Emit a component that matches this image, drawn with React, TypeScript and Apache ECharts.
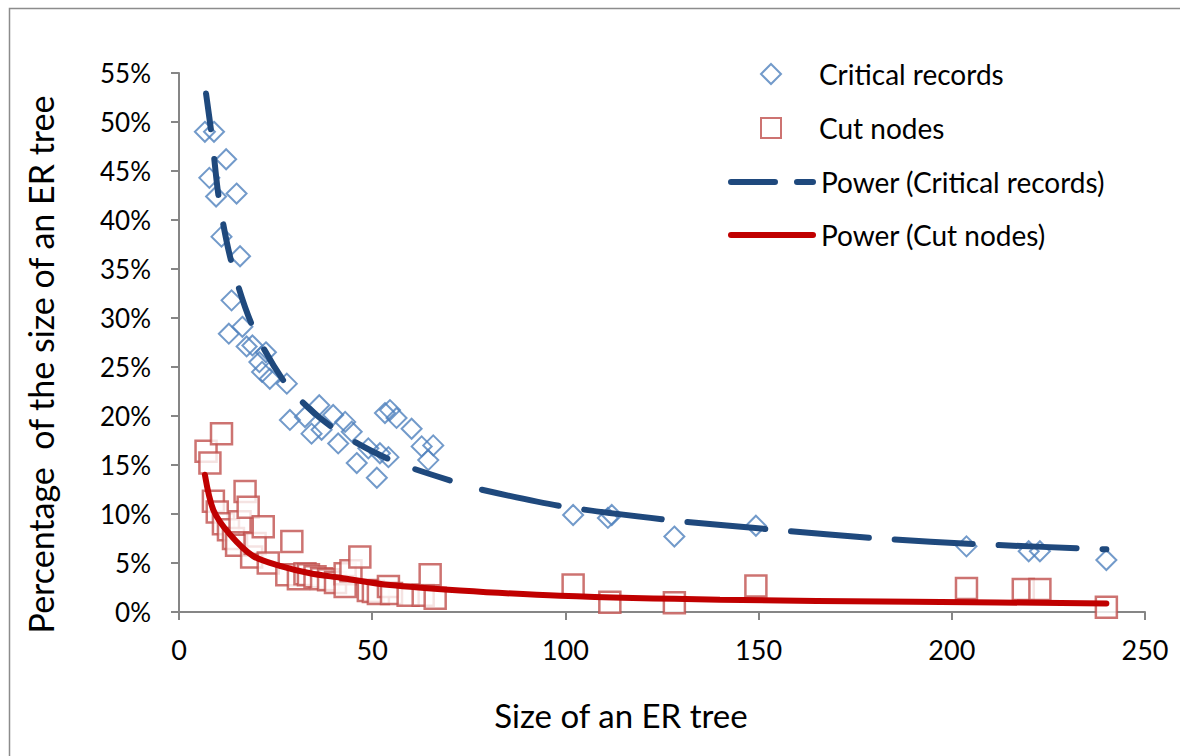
import React, { useEffect, useRef } from "react";
import * as echarts from "echarts";

// Critical records (% of ER tree size) vs size of an ER tree
const criticalRecords: [number, number][] = [
  [6.7, 49.0], [7.85, 44.3], [9.06, 49.0], [9.6, 42.4], [11.0, 38.3], [12.2, 46.2],
  [12.9, 28.4], [13.6, 31.8], [14.9, 42.7], [15.8, 36.3], [16.4, 29.1], [17.5, 27.1],
  [19.0, 27.2], [20.8, 25.5], [21.5, 24.5], [22.5, 26.5], [23.5, 23.8], [27.9, 23.3],
  [28.7, 19.6], [32.6, 19.9], [34.3, 18.2], [36.3, 21.1], [36.9, 18.6], [39.9, 20.1],
  [41.2, 17.2], [43.0, 19.4], [44.7, 18.4], [46.0, 15.2], [49.0, 16.7], [51.2, 13.7],
  [52.0, 16.2], [53.3, 20.3], [54.2, 15.8], [54.6, 20.6], [56.3, 19.8], [60.2, 18.7],
  [62.8, 16.9], [64.5, 15.5], [65.8, 17.0], [102, 9.9], [111, 9.6], [112, 9.9],
  [128.2, 7.7], [149.3, 8.8], [203.8, 6.7], [219.9, 6.2], [222.8, 6.2], [240, 5.3]
];

// Cut nodes (% of ER tree size)
const cutNodes: [number, number][] = [
  [7.0, 16.4], [8.0, 15.2], [8.9, 11.3], [9.9, 10.2], [11.0, 18.2], [11.5, 9.0],
  [12.8, 8.4], [14.1, 7.5], [14.9, 6.8], [15.8, 9.2], [17.1, 12.3], [17.9, 10.7],
  [18.8, 5.6], [19.7, 7.0], [21.8, 8.7], [23.1, 5.0], [27.9, 3.8], [29.2, 7.2],
  [30.9, 3.4], [32.6, 3.9], [33.5, 3.8], [35.2, 3.6], [36.9, 3.4], [38.7, 3.3],
  [40.5, 3.0], [43.0, 3.9], [43.0, 2.6], [44.5, 4.2], [46.8, 5.6], [49.0, 2.2],
  [50.3, 2.1], [51.6, 1.9], [54.2, 2.6], [55.0, 1.9], [59.3, 1.7], [63.2, 1.7],
  [65.0, 3.8], [66.3, 1.4], [102, 2.76], [111.5, 1.0], [128.2, 0.95], [149.3, 2.65],
  [203.8, 2.4], [218.5, 2.3], [222.8, 2.3], [240, 0.48]
];

// Power trendlines, points
const powerCriticalSteep: [number, number][] = [
  [7, 52.9], [8.5, 48.5], [10.4, 42.0], [13.7, 35.5], [19.1, 29.1], [27.4, 23.4],
  [35, 20.3], [42.4, 18.1], [50, 16.4], [58, 15.0], [72, 13.2]
];
const powerCriticalFlat: [number, number][] = [
  [72, 13.2], [77, 12.6], [99, 10.8], [126.5, 9.4], [154, 8.4], [181, 7.5],
  [208, 6.9], [240, 6.4]
];
const powerCut: [number, number][] = [
  [6.7, 14.0], [8.9, 10.4], [13.2, 7.9], [19.2, 5.7], [26.1, 4.7], [33.9, 3.95],
  [41.7, 3.5], [54.6, 2.75], [72.7, 2.2], [98.6, 1.65], [140, 1.25], [190, 1.05],
  [240, 0.88]
];

const xTicks = { min: 0, max: 250, interval: 50 };
const yTicks = { min: 0, max: 55, interval: 5 };

const FONT = "Lato, 'Open Sans', sans-serif";

export default function App() {
  const ref = useRef<HTMLDivElement>(null);
  useEffect(() => {
    if (!ref.current) return;
    const chart = echarts.init(ref.current, undefined, { renderer: "svg" });
    const axisColor = "#868686";
    const option: any = {
      animation: false,
      backgroundColor: "#ffffff",
      textStyle: { fontFamily: FONT },
      grid: { left: 179, right: 35, top: 73, bottom: 144, containLabel: false },
      graphic: [
        {
          type: "rect",
          shape: { x: 9.5, y: 8.5, width: 1200, height: 800 },
          style: { fill: "none", stroke: "#8c8c8c", lineWidth: 1.5 },
          silent: true,
          z: -10,
        },
      ],
      legend: [
        {
          data: ["Critical records", "Cut nodes"],
          orient: "vertical",
          left: 760,
          top: 60,
          padding: 0,
          itemWidth: 20,
          itemHeight: 20,
          itemGap: 26,
          textStyle: { fontSize: 28, lineHeight: 28, color: "#000", fontFamily: FONT, padding: [0, 0, 0, 33] },
        },
        {
          data: [
            {
              name: "Power (Critical records)",
              lineStyle: { type: [44, 22], width: 6, cap: "round", color: "#1F497D" },
              itemStyle: { opacity: 0 },
            },
            {
              name: "Power (Cut nodes)",
              lineStyle: { width: 6, cap: "round", color: "#C00000" },
              itemStyle: { opacity: 0 },
            },
          ],
          orient: "vertical",
          left: 728,
          top: 168,
          padding: 0,
          itemWidth: 82,
          itemHeight: 14,
          itemGap: 25,
          textStyle: { fontSize: 28, lineHeight: 28, color: "#000", fontFamily: FONT, padding: [0, 0, 0, 3] },
        },
      ],
      xAxis: {
        type: "value",
        min: xTicks.min,
        max: xTicks.max,
        interval: xTicks.interval,
        name: "Size of an ER tree",
        nameLocation: "middle",
        nameGap: 86,
        nameTextStyle: { fontSize: 33, color: "#000", fontFamily: FONT, padding: [0, 82, 0, 0] },
        axisLine: { lineStyle: { color: axisColor, width: 2 } },
        axisTick: { show: true, inside: false, length: 8, lineStyle: { color: axisColor, width: 2 } },
        axisLabel: { fontSize: 27, color: "#000", margin: 24, fontFamily: FONT },
        splitLine: { show: false },
      },
      yAxis: {
        type: "value",
        min: yTicks.min,
        max: yTicks.max,
        interval: yTicks.interval,
        name: "Percentage  of the size of an ER tree",
        nameLocation: "middle",
        nameGap: 122,
        nameTextStyle: { fontSize: 34, color: "#000", fontFamily: FONT, padding: [0, 44, 0, 0] },
        axisLine: { show: true, lineStyle: { color: axisColor, width: 2 } },
        axisTick: { show: true, inside: false, length: 8, lineStyle: { color: axisColor, width: 2 } },
        axisLabel: { fontSize: 26, color: "#000", margin: 28, formatter: "{value}%", fontFamily: FONT },
        splitLine: { show: false },
      },
      series: [
        {
          name: "Critical records",
          type: "scatter",
          symbol: "diamond",
          symbolSize: 20,
          data: criticalRecords,
          itemStyle: { color: "rgba(255,255,255,0)", borderColor: "#4F81BD", borderWidth: 2 },
          z: 2,
        },
        {
          name: "Cut nodes",
          type: "scatter",
          symbol: "rect",
          symbolSize: 21,
          data: cutNodes,
          itemStyle: { color: "#ffffff", borderColor: "#C0504D", borderWidth: 2.5 },
          z: 3,
        },
        {
          name: "Power (Critical records)",
          type: "line",
          data: powerCriticalSteep,
          smooth: 0.3,
          showSymbol: false,
          symbol: "none",
          lineStyle: { color: "#1F497D", width: 6, type: [36, 30], cap: "round" },
          itemStyle: { color: "#1F497D" },
          z: 5,
        },
        {
          name: "Power (Critical records)",
          type: "line",
          data: powerCriticalFlat,
          smooth: 0.3,
          showSymbol: false,
          symbol: "none",
          lineStyle: { color: "#1F497D", width: 6, type: [78, 26], dashOffset: 78, cap: "round" },
          itemStyle: { color: "#1F497D" },
          z: 5,
        },
        {
          name: "Power (Cut nodes)",
          type: "line",
          data: powerCut,
          smooth: 0.3,
          showSymbol: false,
          symbol: "none",
          lineStyle: { color: "#C00000", width: 6, cap: "round" },
          itemStyle: { color: "#C00000" },
          z: 5,
        },
      ],
    };
    chart.setOption(option);
    return () => chart.dispose();
  }, []);
  return (
    <div
      ref={ref}
      style={{ position: "fixed", left: 0, top: 0, width: 1180, height: 756, background: "#fff" }}
    />
  );
}
